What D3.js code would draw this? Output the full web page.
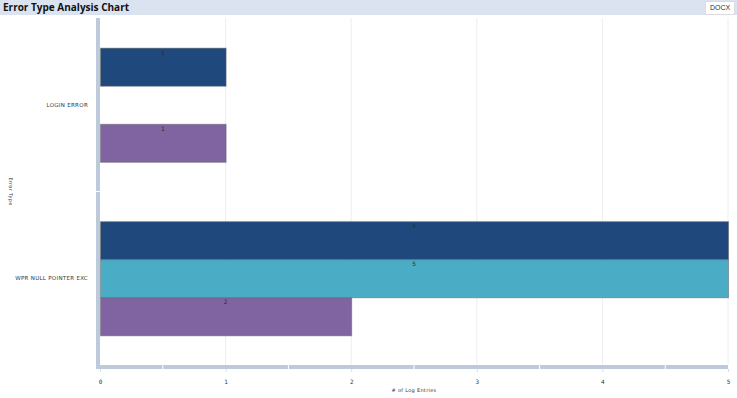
<!DOCTYPE html>
<html>
<head>
<meta charset="utf-8">
<script src="https://cdn.jsdelivr.net/npm/d3@7"></script>
<style>
	body { margin: 0; background: #fff; font-family: "Open Sans", "DejaVu Sans", sans-serif; }
	.header { position: absolute; left: 0; top: 0; width: 737px; height: 15px; background: #dbe3f0; }
	.header .title { position: absolute; left: 3px; top: 0px; font-size: 10px; font-weight: 700; color: #111; line-height: 15px; }
	.header .btn { position: absolute; left: 705px; top: 1px; width: 28px; height: 12px; text-align: center; background: #fff; border: 1px solid #dcdcdc; font-size: 7px; line-height: 12px; color: #333; font-family: "Liberation Sans", sans-serif; }
	.canvas { position: absolute; left: 0; top: 0; }
</style>
</head>
<body>
<div class="header"><span class="title">Error Type Analysis Chart</span><span class="btn">DOCX</span></div>
<div class="canvas"></div>
<script>
// data
const categories = ['LOGIN ERROR', 'WPR NULL POINTER EXC'];
const series = ['Series 1', 'Series 2', 'Series 3'];
const seriesOne = [1, 5];
const seriesTwo = [0, 5];
const seriesThree = [1, 2];
const xTicks = [0, 1, 2, 3, 4, 5];
const colours = ['#1f497d', '#4bacc6', '#8064a2'];

const values = categories.map((c, i) => [seriesOne[i], seriesTwo[i], seriesThree[i]]);

const dims = { width: 737, height: 398 };
const plot = { left: 100, right: 728, top: 18, bottom: 365 };

const svg = d3.select('.canvas').append('svg')
	.attr('width', dims.width)
	.attr('height', dims.height);

const x = d3.scaleLinear()
	.domain([0, 5])
	.range([plot.left, plot.right]);

const y0 = d3.scaleBand()
	.domain(categories)
	.range([plot.top, plot.bottom])
	.padding(0);

const y1 = d3.scaleBand()
	.domain(series)
	.range([0, y0.bandwidth()])
	.paddingInner(0)
	.paddingOuter(0.78);

const colour = d3.scaleOrdinal().domain(series).range(colours);

// grid lines
svg.append('g')
	.selectAll('line')
	.data(xTicks.filter(d => d > 0))
	.join('line')
	.attr('x1', d => x(d)).attr('x2', d => x(d))
	.attr('y1', plot.top).attr('y2', plot.bottom)
	.attr('stroke', '#eceef2')
	.attr('stroke-width', 1);

// bars
const groups = svg.append('g')
	.selectAll('g')
	.data(categories)
	.join('g')
	.attr('transform', d => `translate(0, ${y0(d)})`);

const bars = groups.selectAll('g')
	.data((d, i) => series.map((s, j) => ({ cat: d, name: s, value: values[i][j] })).filter(b => b.value > 0))
	.join('g');

bars.append('rect')
	.attr('x', x(0) + 0.5)
	.attr('y', d => y1(d.name) + 0.5)
	.attr('width', d => x(d.value) - x(0))
	.attr('height', y1.bandwidth())
	.attr('fill', d => colour(d.name))
	.attr('stroke', 'rgba(100,100,100,0.5)')
	.attr('stroke-width', 1);

bars.append('text')
	.attr('x', d => (x(0) + x(d.value)) / 2)
	.attr('y', d => y1(d.name) + 7)
	.attr('text-anchor', 'middle')
	.attr('font-size', 6)
	.attr('font-family', 'DejaVu Sans Mono, monospace')
	.attr('fill', '#2a2a3a')
	.text(d => d.value);

// y axis band
const bandCol = '#bccadb';
svg.append('rect')
	.attr('x', 96).attr('y', plot.top)
	.attr('width', 4).attr('height', plot.bottom - plot.top + 4)
	.attr('fill', bandCol);

svg.append('line')
	.attr('x1', 96).attr('x2', 100)
	.attr('y1', y0(categories[1])).attr('y2', y0(categories[1]))
	.attr('stroke', '#fff').attr('stroke-width', 1);

// x axis band
svg.append('rect')
	.attr('x', 96).attr('y', plot.bottom)
	.attr('width', plot.right - 96).attr('height', 4)
	.attr('fill', bandCol);

svg.append('g')
	.selectAll('line')
	.data(d3.range(0.5, 5, 1))
	.join('line')
	.attr('x1', d => x(d)).attr('x2', d => x(d))
	.attr('y1', plot.bottom).attr('y2', plot.bottom + 4)
	.attr('stroke', '#fff').attr('stroke-width', 1);

// y labels
svg.append('g')
	.selectAll('text')
	.data(categories)
	.join('text')
	.attr('x', 88)
	.attr('y', d => y0(d) + y0.bandwidth() / 2 + 2)
	.attr('text-anchor', 'end')
	.attr('font-size', 5.5)
	.attr('letter-spacing', 0.3)
	.attr('font-family', 'DejaVu Sans, sans-serif')
	.attr('fill', '#2f3840')
	.text(d => d);

// x axis
const xAxis = d3.axisBottom(x)
	.tickValues(xTicks)
	.tickFormat(d3.format('d'))
	.tickSize(3)
	.tickPadding(8);

const xg = svg.append('g')
	.attr('transform', `translate(0, ${plot.bottom + 4})`)
	.call(xAxis);

xg.select('.domain').remove();
xg.selectAll('line').attr('stroke', '#d8dde5');
xg.selectAll('text')
	.attr('font-size', 6)
	.attr('font-family', 'DejaVu Sans Mono, monospace')
	.attr('fill', '#2f3840');

// axis titles
svg.append('text')
	.attr('x', x(2.5))
	.attr('y', 392)
	.attr('text-anchor', 'middle')
	.attr('font-size', 5)
	.attr('letter-spacing', 0.3)
	.attr('font-family', 'DejaVu Sans, sans-serif')
	.attr('fill', '#2f3840')
	.text('# of Log Entries');

svg.append('text')
	.attr('transform', `translate(9, ${(plot.top + plot.bottom) / 2}) rotate(90)`)
	.attr('text-anchor', 'middle')
	.attr('font-size', 5)
	.attr('letter-spacing', 0.3)
	.attr('font-family', 'DejaVu Sans, sans-serif')
	.attr('fill', '#2f3840')
	.text('Error Type');
</script>
</body>
</html>
